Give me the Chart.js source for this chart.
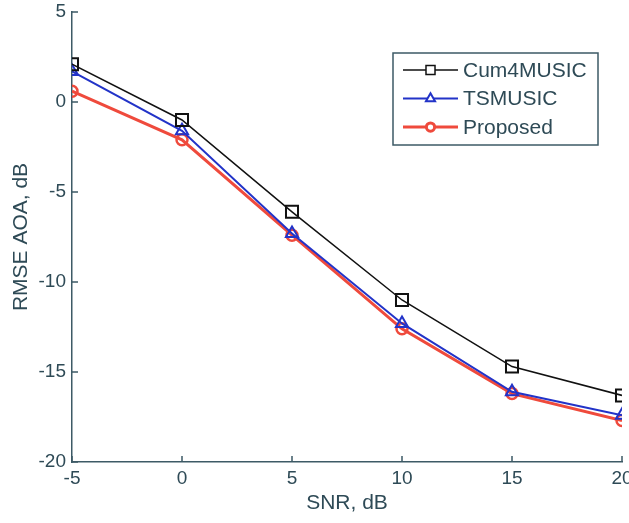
<!DOCTYPE html>
<html>
<head>
<meta charset="utf-8">
<script src="https://cdn.jsdelivr.net/npm/chart.js@4/dist/chart.umd.min.js"></script>
<style>
  html, body { margin: 0; padding: 0; background: #fff; }
  #wrap { width: 629px; height: 523px; }
</style>
</head>
<body>
<div id="wrap"><canvas id="rmseChart" width="629" height="523"></canvas></div>
<script>
const snr = [-5, 0, 5, 10, 15, 20];
const cum4music = [2.1, -1.0, -6.1, -11.0, -14.7, -16.3];
const tsmusic = [1.7, -1.6, -7.3, -12.3, -16.1, -17.4];
const proposed = [0.6, -2.1, -7.4, -12.6, -16.2, -17.7];
const xTicks = [-5, 0, 5, 10, 15, 20];
const yTicks = [-20, -15, -10, -5, 0, 5];

const axisColor = "#3d5a66";
const textColor = "#2e4a56";
const fontFamily = "'Liberation Sans', Arial, sans-serif";

function toPoints(values) {
  return snr.map((x, i) => ({ x: x, y: values[i] }));
}

// MATLAB-style ticks pointing into the plot
const innerTicks = {
  id: "innerTicks",
  afterDatasetsDraw(chart) {
    const { ctx, chartArea, scales } = chart;
    ctx.save();
    ctx.strokeStyle = axisColor;
    ctx.lineWidth = 1.5;
    ctx.beginPath();
    xTicks.forEach((v) => {
      const px = scales.x.getPixelForValue(v);
      ctx.moveTo(px, chartArea.bottom);
      ctx.lineTo(px, chartArea.bottom - 6);
    });
    yTicks.forEach((v) => {
      const py = scales.y.getPixelForValue(v);
      ctx.moveTo(chartArea.left, py);
      ctx.lineTo(chartArea.left + 6, py);
    });
    ctx.stroke();
    ctx.restore();
  },
};

// legend box inside the plot, upper right
const boxLegend = {
  id: "boxLegend",
  afterDraw(chart) {
    const { ctx, chartArea } = chart;
    const left = chartArea.left + 321;
    const top = chartArea.top + 41;
    const w = 205, h = 92;
    ctx.save();
    ctx.fillStyle = "#fff";
    ctx.fillRect(left, top, w, h);
    ctx.strokeStyle = axisColor;
    ctx.lineWidth = 1.5;
    ctx.strokeRect(left, top, w, h);

    ctx.font = "21px " + fontFamily;
    ctx.textBaseline = "middle";
    chart.data.datasets.forEach((ds, i) => {
      const y = top + 17 + i * 28.5;
      ctx.strokeStyle = ds.borderColor;
      ctx.lineWidth = ds.borderWidth;
      ctx.beginPath();
      ctx.moveTo(left + 10, y);
      ctx.lineTo(left + 65, y);
      ctx.stroke();
      ctx.fillStyle = "#fff";
      ctx.strokeStyle = ds.pointBorderColor;
      Chart.helpers.drawPoint(ctx, {
        pointStyle: ds.pointStyle,
        radius: ds.pointRadius * 0.75,
        borderWidth: ds.pointBorderWidth,
      }, left + 37.5, y);
      ctx.fillStyle = textColor;
      ctx.fillText(ds.label, left + 70, y + 1);
    });
    ctx.restore();
  },
};

new Chart(document.getElementById("rmseChart"), {
  type: "line",
  data: {
    datasets: [
      {
        label: "Cum4MUSIC",
        data: toPoints(cum4music),
        borderColor: "#111111",
        backgroundColor: "#111111",
        borderWidth: 1.5,
        pointStyle: "rect",
        pointRadius: 8.5,
        pointBorderWidth: 2,
        pointBackgroundColor: "rgba(0,0,0,0)",
        pointBorderColor: "#111111",
      },
      {
        label: "TSMUSIC",
        data: toPoints(tsmusic),
        borderColor: "#2233c8",
        backgroundColor: "#2233c8",
        borderWidth: 2,
        pointStyle: "triangle",
        pointRadius: 7,
        pointBorderWidth: 2,
        pointBackgroundColor: "rgba(0,0,0,0)",
        pointBorderColor: "#2233c8",
      },
      {
        label: "Proposed",
        data: toPoints(proposed),
        borderColor: "#ef4a3c",
        backgroundColor: "#ef4a3c",
        borderWidth: 3,
        pointStyle: "circle",
        pointRadius: 5.5,
        pointBorderWidth: 2.5,
        pointBackgroundColor: "rgba(0,0,0,0)",
        pointBorderColor: "#ef4a3c",
      },
    ],
  },
  options: {
    responsive: false,
    animation: false,
    events: [],
    layout: { autoPadding: false, padding: { top: 12, right: 7, left: 0, bottom: 0 } },
    plugins: {
      legend: { display: false },
      tooltip: { enabled: false },
    },
    scales: {
      x: {
        type: "linear",
        min: -5,
        max: 20,
        afterFit: (scale) => {
          scale.height = 61;
          scale.paddingLeft = 0;
          scale.paddingRight = 0;
        },
        afterBuildTicks: (scale) => { scale.ticks = xTicks.map((v) => ({ value: v })); },
        grid: { display: false, drawTicks: false },
        border: { display: true, color: axisColor, width: 1.5 },
        ticks: {
          padding: 5,
          color: textColor,
          font: { family: fontFamily, size: 19 },
          maxRotation: 0,
        },
        title: {
          display: true,
          text: "SNR, dB",
          color: textColor,
          font: { family: fontFamily, size: 21 },
          padding: { top: 0, bottom: 7 },
        },
      },
      y: {
        type: "linear",
        min: -20,
        max: 5,
        afterFit: (scale) => {
          scale.width = 72;
          scale.paddingTop = 0;
          scale.paddingBottom = 0;
        },
        afterBuildTicks: (scale) => { scale.ticks = yTicks.map((v) => ({ value: v })); },
        grid: { display: false, drawTicks: false },
        border: { display: true, color: axisColor, width: 1.5 },
        ticks: {
          padding: 6,
          color: textColor,
          font: { family: fontFamily, size: 19 },
        },
        title: {
          display: true,
          text: "RMSE AOA, dB",
          color: textColor,
          font: { family: fontFamily, size: 21 },
          padding: { top: 9, bottom: 0 },
        },
      },
    },
  },
  plugins: [innerTicks, boxLegend],
});
</script>
</body>
</html>
